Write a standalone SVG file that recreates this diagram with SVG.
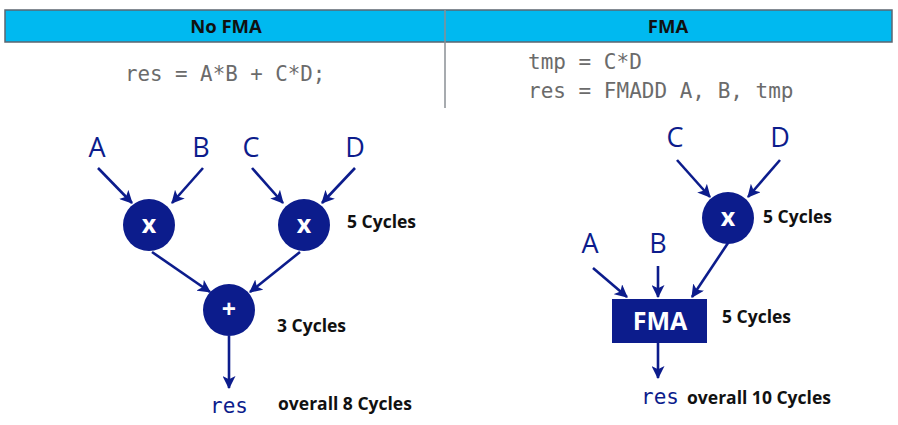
<svg xmlns="http://www.w3.org/2000/svg" width="898" height="425" viewBox="0 0 898 425">
<style>
.hdr{fill:#00B9F0;stroke:#5C6670;stroke-width:1.5}
.htxt{font-family:"Open Sans","Liberation Sans",sans-serif;font-weight:bold;font-size:18.5px;fill:#111;text-anchor:middle}
.code{font-family:"DejaVu Sans Mono","Liberation Mono",monospace;font-size:20.8px;fill:#6b6b6b}
.lbl{font-family:"Open Sans","Liberation Sans",sans-serif;font-size:27px;fill:#0C1C8C;text-anchor:middle}
.op{fill:#0C1C8C}
.optxt{font-family:"Open Sans","Liberation Sans",sans-serif;font-weight:bold;font-size:25px;fill:#fff;text-anchor:middle}
.cyc{font-family:"Open Sans","Liberation Sans",sans-serif;font-weight:bold;font-size:17.5px;fill:#111}
.res{font-family:"DejaVu Sans Mono","Liberation Mono",monospace;font-size:21px;fill:#0C1C8C}
.edge{stroke:#0C1C8C;stroke-width:2.6;fill:none;marker-end:url(#ah)}
</style>
<defs>
<marker id="ah" viewBox="0 0 12 12" refX="11" refY="6" markerWidth="5" markerHeight="5" markerUnits="strokeWidth" orient="auto">
<path d="M0,0 L12,6 L0,12 L3,6 Z" fill="#0C1C8C"/>
</marker>
</defs>
<rect width="898" height="425" fill="#fff"/>
<g id="header">
<rect class="hdr" x="5" y="10" width="887" height="32"/>
<line x1="445" y1="10" x2="445" y2="108" stroke="#8a8f94" stroke-width="1.5"/>
<text class="htxt" x="226" y="33">No FMA</text>
<text class="htxt" x="668" y="33">FMA</text>
</g>
<g id="code-left"><text class="code" x="125" y="81">res = A*B + C*D;</text></g>
<g id="code-right">
<text class="code" x="528" y="69" style="font-size:21px">tmp = C*D</text>
<text class="code" x="528" y="98" style="font-size:21px">res = FMADD A, B, tmp</text>
</g>
<g id="connectors">
<line class="edge" x1="98" y1="168" x2="132" y2="203"/>
<line class="edge" x1="203" y1="168" x2="172" y2="203"/>
<line class="edge" x1="252" y1="168" x2="283" y2="203"/>
<line class="edge" x1="355" y1="168" x2="322" y2="203"/>
<line class="edge" x1="152" y1="252" x2="210" y2="292"/>
<line class="edge" x1="300" y1="252" x2="250" y2="292"/>
<line class="edge" x1="229" y1="336" x2="229" y2="388"/>
<line class="edge" x1="677" y1="160" x2="710" y2="197"/>
<line class="edge" x1="780" y1="160" x2="748" y2="197"/>
<line class="edge" x1="593" y1="268" x2="627" y2="297"/>
<line class="edge" x1="658" y1="266" x2="658" y2="297"/>
<line class="edge" x1="728" y1="243" x2="692" y2="297"/>
<line class="edge" x1="658" y1="343" x2="658" y2="378"/>
</g>
<g id="L-A"><text class="lbl" x="97" y="157">A</text></g>
<g id="L-B"><text class="lbl" x="201" y="157">B</text></g>
<g id="L-C"><text class="lbl" x="251" y="157">C</text></g>
<g id="L-D"><text class="lbl" x="355" y="157">D</text></g>
<g id="L-mul1"><circle class="op" cx="149" cy="225" r="26"/><text class="optxt" x="149" y="233">x</text></g>
<g id="L-mul2"><circle class="op" cx="304" cy="225" r="26"/><text class="optxt" x="304" y="233">x</text></g>
<g id="L-add"><circle class="op" cx="229" cy="310" r="26"/><text class="optxt" x="229" y="318">+</text></g>
<g id="L-res"><text class="res" x="229" y="413" text-anchor="middle">res</text></g>
<text class="cyc" x="347" y="228">5 Cycles</text>
<text class="cyc" x="277" y="332">3 Cycles</text>
<text class="cyc" x="278" y="410">overall 8 Cycles</text>
<g id="R-C"><text class="lbl" x="675" y="147">C</text></g>
<g id="R-D"><text class="lbl" x="780" y="147">D</text></g>
<g id="R-A"><text class="lbl" x="590" y="253">A</text></g>
<g id="R-B"><text class="lbl" x="658" y="253">B</text></g>
<g id="R-mul"><circle class="op" cx="728" cy="218" r="26"/><text class="optxt" x="728" y="226">x</text></g>
<g id="R-fma"><rect class="op" x="612" y="299" width="95" height="44"/><text class="optxt" x="660" y="330" font-size="21">FMA</text></g>
<g id="R-res"><text class="res" x="660" y="404" text-anchor="middle">res</text></g>
<text class="cyc" x="763" y="223">5 Cycles</text>
<text class="cyc" x="722" y="323">5 Cycles</text>
<text class="cyc" x="687" y="404">overall 10 Cycles</text>
</svg>
